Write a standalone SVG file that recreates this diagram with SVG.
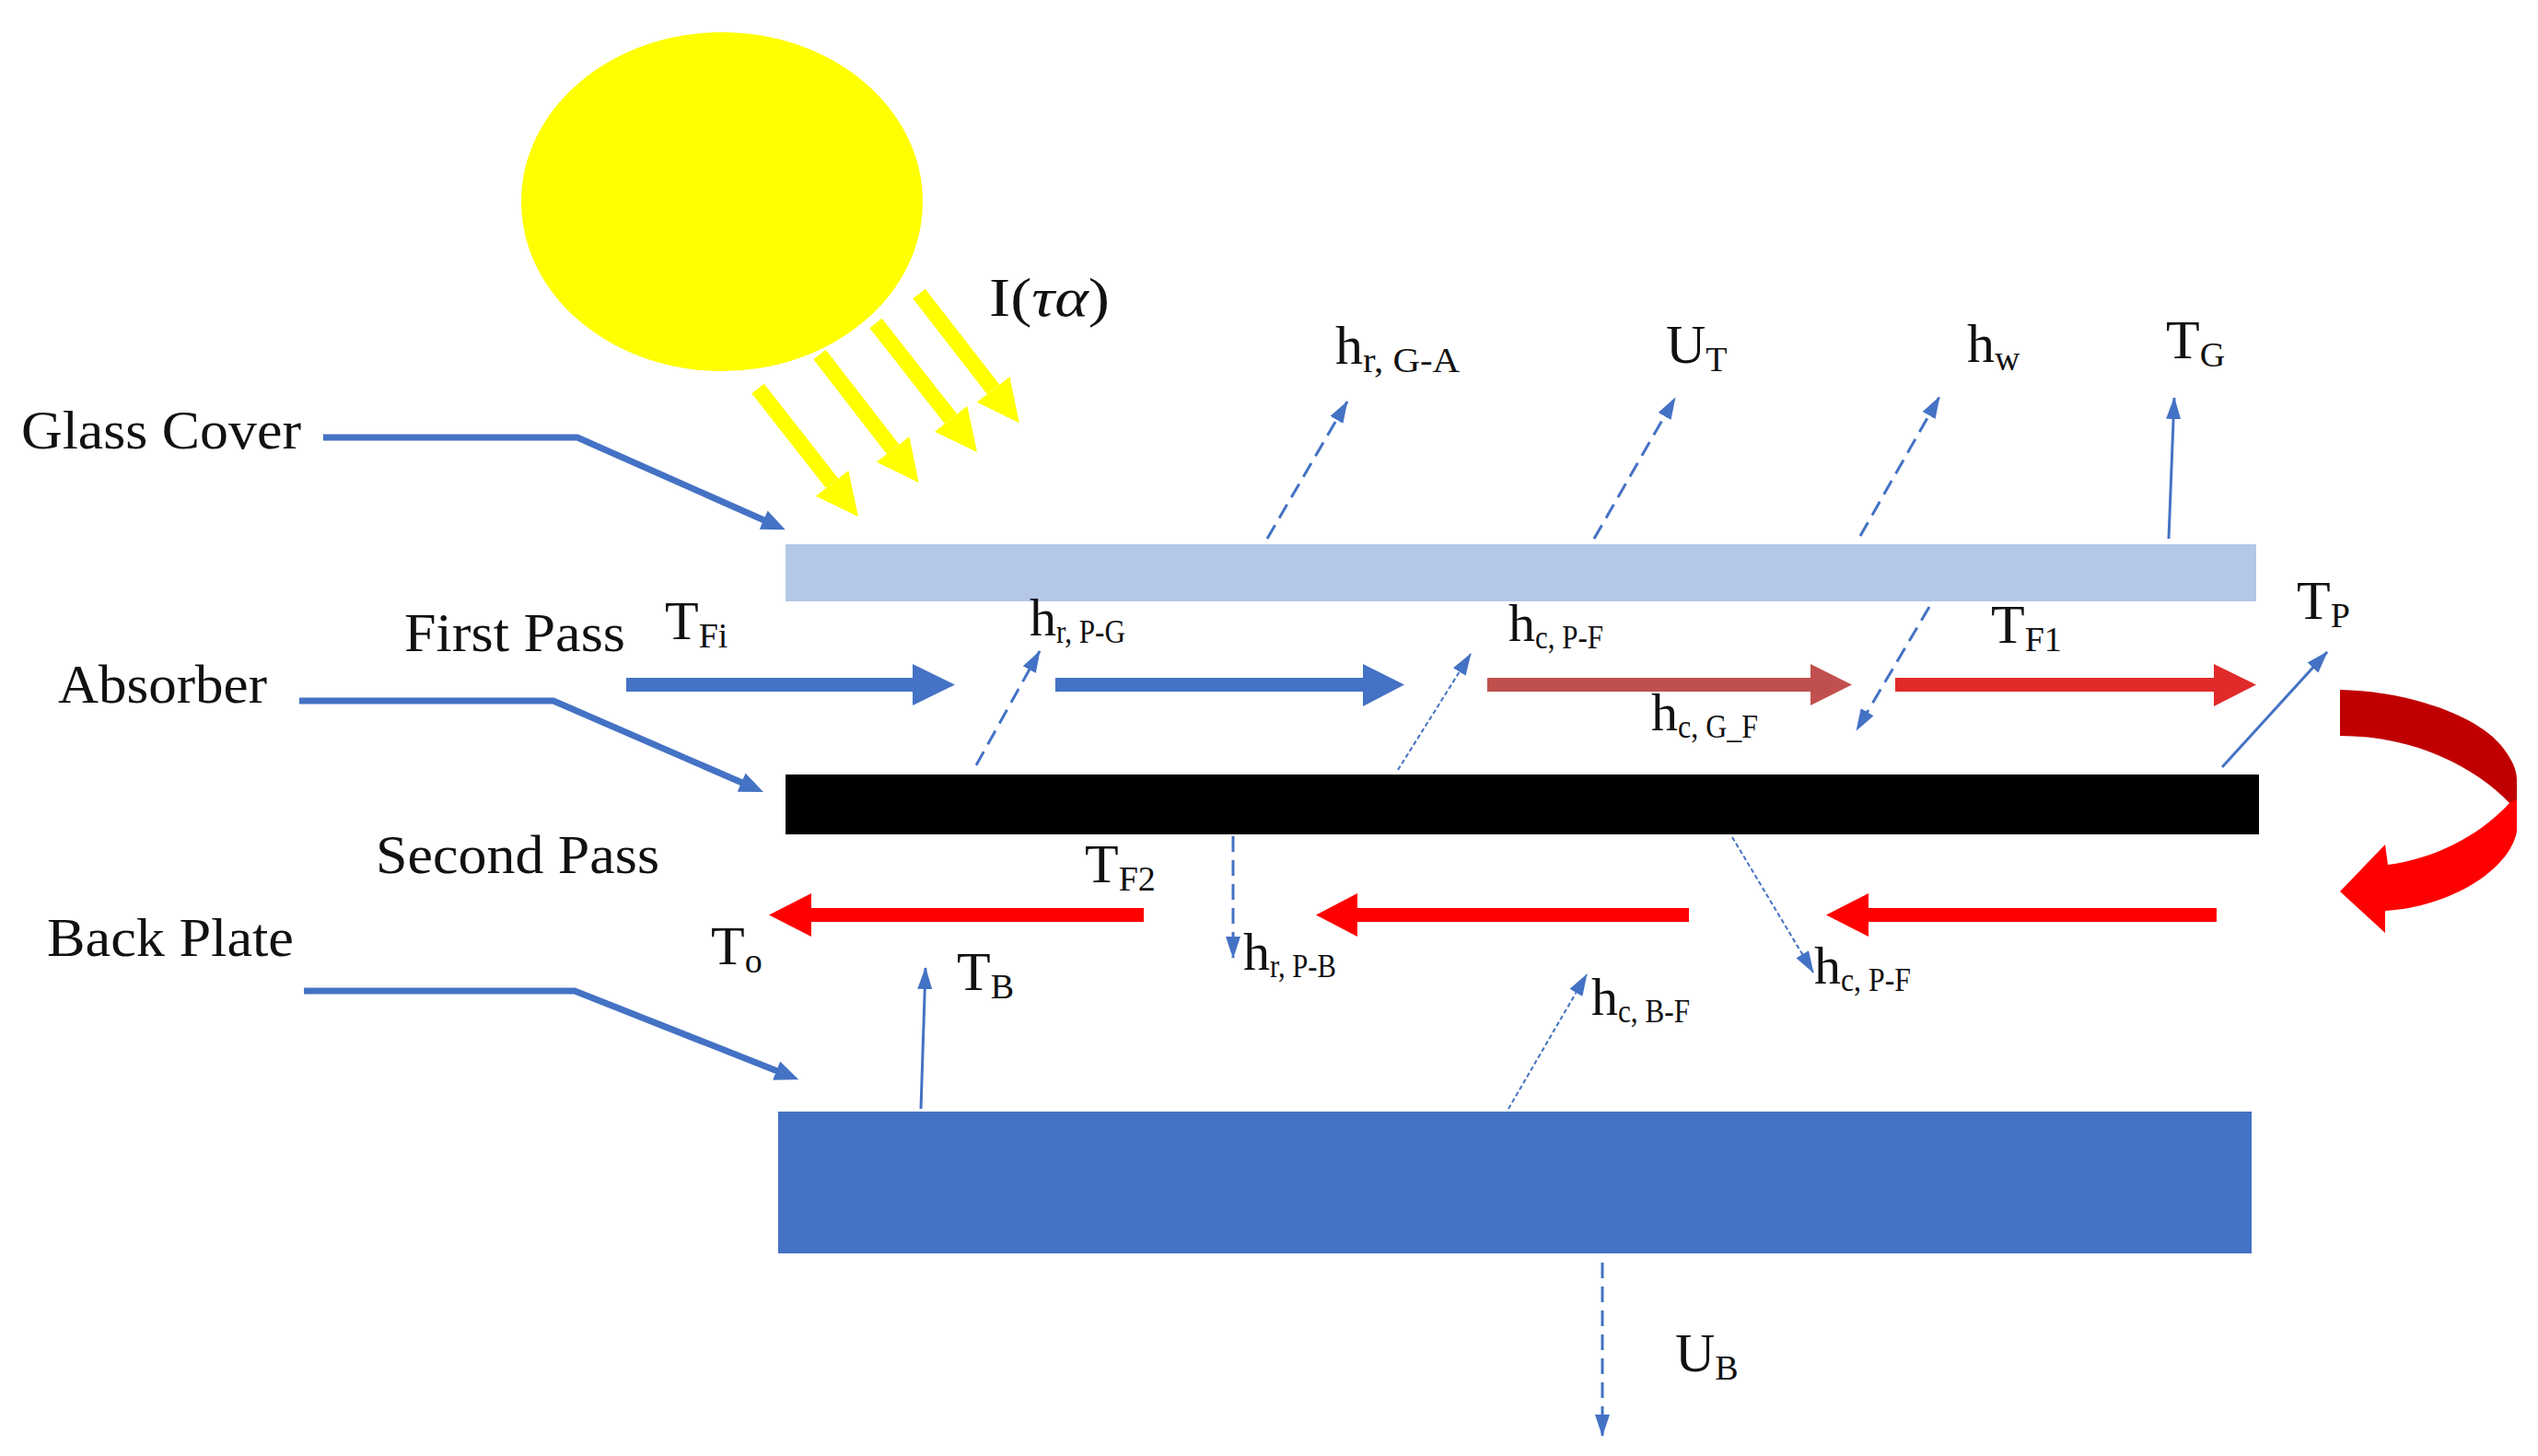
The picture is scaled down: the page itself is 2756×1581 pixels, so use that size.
<svg xmlns="http://www.w3.org/2000/svg" width="2756" height="1581" viewBox="0 0 2756 1581">
<defs>
<marker id="thin" markerUnits="userSpaceOnUse" markerWidth="24" markerHeight="18" viewBox="0 0 24 18" refX="23" refY="9" orient="auto"><path d="M0,1 L24,9 L0,17 Z" fill="#4472C4"/></marker>
<marker id="lead" markerUnits="userSpaceOnUse" markerWidth="26" markerHeight="24" viewBox="0 0 26 24" refX="1" refY="12" orient="auto"><path d="M0,1 L26,12 L0,23 Z" fill="#4472C4"/></marker>
<marker id="sunray" markerUnits="userSpaceOnUse" markerWidth="46" markerHeight="46" viewBox="0 0 46 46" refX="0" refY="23" orient="auto"><path d="M0,0.5 L46,23 L0,45.5 Z" fill="#FFFF00"/></marker>
</defs>
<style>
text{font-family:"Liberation Serif","Times New Roman",serif;fill:#111}
.lab{font-size:60px}
.sym{font-size:60px}
.hs{font-size:58px}
.sub{font-size:38px}
.hsub{font-size:36px}
.t{fill:none;stroke:#4472C4;stroke-width:3;marker-end:url(#thin)}
.d{stroke-dasharray:17 9}
.f{stroke-dasharray:5 3;stroke-width:2}
.leader{fill:none;stroke:#4472C4;stroke-width:7;marker-end:url(#lead)}
.ray{stroke:#FFFF00;stroke-width:17;marker-end:url(#sunray)}
.blue{fill:#4472C4}.red{fill:#FF0000}
</style>
<rect width="2756" height="1581" fill="#fff"/>
<g id="sun"><ellipse cx="784" cy="219" rx="218" ry="184" fill="#FFFF00"/></g>
<g id="glass-cover"><rect x="853" y="591" width="1597" height="62" fill="#B4C7E7"/></g>
<g id="absorber"><rect x="853" y="841" width="1600" height="65" fill="#000"/></g>
<g id="back-plate"><rect x="845" y="1207" width="1600" height="154" fill="#4472C4"/></g>
<g id="connectors">
<line class="ray" x1="823" y1="422" x2="903.6" y2="524.8"/>
<line class="ray" x1="890" y1="385" x2="969.6" y2="487.8"/>
<line class="ray" x1="951" y1="351" x2="1032.6" y2="454.8"/>
<line class="ray" x1="998" y1="319" x2="1078.6" y2="422.8"/>
<polyline class="leader" points="351,475 627,475 830,565"/>
<polyline class="leader" points="325,761 601,761 806,850"/>
<polyline class="leader" points="330,1076 624,1076 844,1163"/>
<path class="blue" d="M680,736H991V721L1037,743.500L991,766V751H680Z"/>
<path class="blue" d="M1146,736H1480V721L1525,743.500L1480,767V751H1146Z"/>
<path fill="#C0504D" d="M1615,736H1966V721L2011,743.500L1966,766V751H1615Z"/>
<path fill="#E12B2B" d="M2058,736H2404V721L2450,743.500L2404,767V751H2058Z"/>
<path class="red" d="M1242,986H881V970L835,993.500L881,1017V1001H1242Z"/>
<path class="red" d="M1834,986H1474V970L1429,993.500L1474,1017V1001H1834Z"/>
<path class="red" d="M2407,986H2029V970L1983,993.500L2029,1017V1001H2407Z"/>
<path fill="#C00000" d="M2541,749C2610,750 2690,775 2718,812C2727,824 2733,835 2733,847V872H2725C2690,835 2625,799 2541,799Z"/>
<path class="red" d="M2733,868V903C2725,945 2660,985 2590,989V1013L2541,968L2590,917L2593,939C2640,933 2690,910 2725,872Z"/>
<line class="t d" x1="1376" y1="585" x2="1463" y2="436"/>
<line class="t d" x1="1731" y1="585" x2="1819" y2="432"/>
<line class="t d" x1="2020" y1="582" x2="2106" y2="431"/>
<line class="t" x1="2355" y1="585" x2="2361" y2="432"/>
<line class="t" x1="2413" y1="833" x2="2527" y2="708"/>
<line class="t d" x1="1060" y1="831" x2="1129" y2="707"/>
<line class="t f" x1="1518" y1="836" x2="1597" y2="710"/>
<line class="t d" x1="2095" y1="659" x2="2016" y2="793"/>
<line class="t d" x1="1339" y1="908" x2="1339" y2="1040"/>
<line class="t f" x1="1881" y1="909" x2="1969" y2="1056"/>
<line class="t" x1="1000" y1="1204" x2="1005" y2="1051"/>
<line class="t f" x1="1638" y1="1204" x2="1723" y2="1058"/>
<line class="t d" x1="1740" y1="1371" x2="1740" y2="1559"/>
</g>
<g id="labels">
<text class="lab" x="23" y="487" textLength="304" lengthAdjust="spacingAndGlyphs">Glass Cover</text>
<text class="lab" x="439" y="707" textLength="240" lengthAdjust="spacingAndGlyphs">First Pass</text>
<text class="lab" x="63" y="763" textLength="227" lengthAdjust="spacingAndGlyphs">Absorber</text>
<text class="lab" x="408" y="948" textLength="308" lengthAdjust="spacingAndGlyphs">Second Pass</text>
<text class="lab" x="51" y="1038" textLength="268" lengthAdjust="spacingAndGlyphs">Back Plate</text>
<text class="lab" x="1074" y="343" textLength="131" lengthAdjust="spacingAndGlyphs">I(<tspan font-style="italic">τα</tspan>)</text>
<text class="sym" x="1450" y="395">h<tspan class="sub" dy="9" textLength="105" lengthAdjust="spacingAndGlyphs">r, G-A</tspan></text>
<text class="sym" x="1809" y="394">U<tspan class="sub" dy="9">T</tspan></text>
<text class="sym" x="2136" y="393">h<tspan class="sub" dy="9">w</tspan></text>
<text class="sym" x="2352" y="389">T<tspan class="sub" dy="9">G</tspan></text>
<text class="sym" x="722" y="694">T<tspan class="sub" dy="9">Fi</tspan></text>
<text class="sym" x="2162" y="698">T<tspan class="sub" dy="9">F1</tspan></text>
<text class="sym" x="2494" y="672">T<tspan class="sub" dy="9">P</tspan></text>
<text class="sym" x="1178" y="958">T<tspan class="sub" dy="9">F2</tspan></text>
<text class="sym" x="772" y="1047">T<tspan class="sub" dy="9" font-size="34">o</tspan></text>
<text class="sym" x="1039" y="1075">T<tspan class="sub" dy="9">B</tspan></text>
<text class="sym" x="1819" y="1489">U<tspan class="sub" dy="9">B</tspan></text>
<text class="hs" x="1118" y="690">h<tspan class="hsub" dy="8" textLength="75" lengthAdjust="spacingAndGlyphs">r, P-G</tspan></text>
<text class="hs" x="1638" y="696">h<tspan class="hsub" dy="8" textLength="74" lengthAdjust="spacingAndGlyphs">c, P-F</tspan></text>
<text class="hs" x="1793" y="793">h<tspan class="hsub" dy="8" textLength="87" lengthAdjust="spacingAndGlyphs">c, G_F</tspan></text>
<text class="hs" x="1350" y="1053">h<tspan class="hsub" dy="8" textLength="72" lengthAdjust="spacingAndGlyphs">r, P-B</tspan></text>
<text class="hs" x="1728" y="1102">h<tspan class="hsub" dy="8" textLength="78" lengthAdjust="spacingAndGlyphs">c, B-F</tspan></text>
<text class="hs" x="1970" y="1068">h<tspan class="hsub" dy="8" textLength="76" lengthAdjust="spacingAndGlyphs">c, P-F</tspan></text>
</g>
</svg>
